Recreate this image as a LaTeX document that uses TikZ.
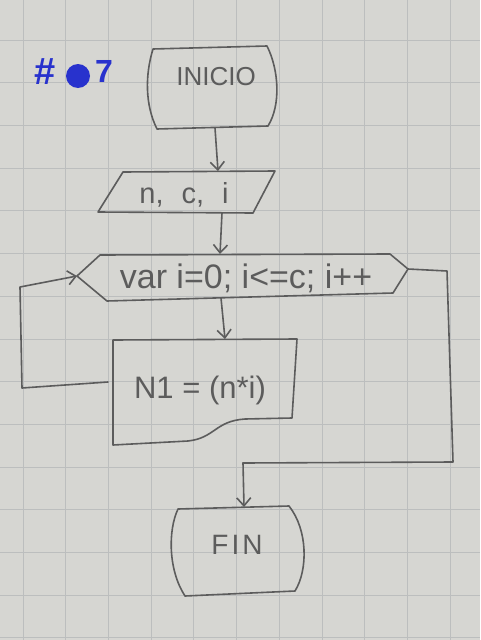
\documentclass[tikz,border=0pt]{standalone}
\usepackage{fontspec}
\setmainfont{Liberation Sans}
\usetikzlibrary{arrows.meta}
\definecolor{papel}{RGB}{214,214,210}
\definecolor{cuadro}{RGB}{188,190,190}
\definecolor{lapiz}{RGB}{92,92,92}
\definecolor{tinta}{RGB}{40,50,205}

\begin{document}
\begin{tikzpicture}[x=1pt,y=-1pt,
    lapiz/.style={draw=lapiz,line width=1.6pt,line join=round,line cap=round},
    flecha/.style={lapiz,-{Straight Barb[length=8pt,width=14pt]}},
    texto/.style={text=lapiz,inner sep=0pt}]
    % hoja cuadriculada
    \fill[papel] (0,0) rectangle (480,640);
    \useasboundingbox (0,0) rectangle (480,640);
    \foreach \k in {0,...,10}
        \draw[cuadro,line width=0.8pt] ({23+42.7*\k},0) -- ++(0,640);
    \foreach \k in {0,...,14}
        \draw[cuadro,line width=0.8pt] (0,{40+42.7*\k}) -- ++(480,0);

    % numero del ejercicio
    \node[text=tinta,font=\fontsize{38}{40}\selectfont\bfseries] (num) at (45,72) {\#};
    \fill[tinta] (78,76) circle (12);
    \node[text=tinta,font=\fontsize{32}{34}\selectfont\bfseries] (siete) at (104,71) {7};

    % formas
    \draw[lapiz] (153,49) -- (267,46) .. controls (279,70) and (281,105) .. (268,126)
        -- (157,129) .. controls (145,105) and (145,75) .. (153,49);
    \draw[lapiz] (123,172) -- (275,171) -- (253,213) -- (98,212) -- cycle;
    \draw[lapiz] (100,255) -- (390,254) -- (408,269) -- (393,293) -- (107,301) -- (77,276) -- cycle;
    \draw[lapiz] (113,340) -- (297,339) -- (292,418) -- (245,419)
        .. controls (215,421) and (215,438) .. (188,441) -- (113,445) -- cycle;
    \draw[lapiz] (178,509) -- (289,506) .. controls (308,530) and (308,570) .. (295,591)
        -- (185,596) .. controls (168,570) and (168,530) .. (178,509);

    % textos
    \node[texto,font=\fontsize{26}{30}\selectfont] (inicio) at (216,77) {INICIO};
    \node[texto,font=\fontsize{29}{30}\selectfont] (datos) at (184,195) {n,\hspace{18pt}c,\hspace{18pt}i};
    \node[texto,font=\fontsize{34}{36}\selectfont] (ciclo) at (246,278) {var i=0; i<=c; i++};
    \node[texto,font=\fontsize{31}{34}\selectfont] (proceso) at (200,390) {N1 = (n*i)};
    \node[texto,font=\fontsize{28}{30}\selectfont] (fin) at (237,545) {F\hspace{3pt}I\hspace{3pt}N};

    % puntos de union
    \coordinate (inicio-s) at (215,128);
    \coordinate (datos-n) at (218,171);
    \coordinate (datos-s) at (222,213);
    \coordinate (ciclo-n) at (220,254);
    \coordinate (ciclo-s) at (221,298);
    \coordinate (ciclo-o) at (77,276);
    \coordinate (ciclo-e) at (408,269);
    \coordinate (proceso-n) at (225,339);
    \coordinate (proceso-o) at (108,382);
    \coordinate (fin-n) at (244,507);
    \coordinate (union) at (243,463);

    % conectores
    \draw[flecha] (inicio-s) -- (datos-n);
    \draw[flecha] (datos-s) -- (ciclo-n);
    \draw[flecha] (ciclo-s) -- (proceso-n);
    \draw[flecha] (proceso-o) -- (22,388) -- (20,287) -- (ciclo-o);
    \draw[lapiz] (ciclo-e) -- (447,271) -- (453,462) -- (union);
    \draw[flecha] (union) -- (fin-n);
\end{tikzpicture}
\end{document}
